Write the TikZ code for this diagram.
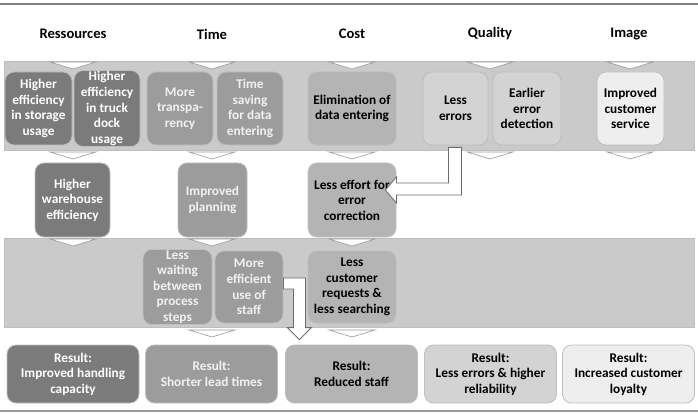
\documentclass[tikz,border=0pt]{standalone}
\usepackage{fontspec}
\setmainfont{Carlito}
\usepackage{xcolor}
\usepackage{tikz}
\usetikzlibrary{positioning,calc}
\definecolor{resgray}{HTML}{7B7B7B}
\definecolor{timegray}{HTML}{9C9C9C}
\definecolor{costgray}{HTML}{B4B4B4}
\definecolor{qualgray}{HTML}{D3D3D3}
\definecolor{imggray}{HTML}{EEEEEE}
\definecolor{bandgray}{HTML}{CACACA}
\definecolor{boxline}{HTML}{BEBEBE}
\newcommand{\chev}[2]{\draw[chev] (#1-23,#2) -- (#1+23,#2) -- (#1,#2+7) -- cycle;}

\begin{document}
\begin{tikzpicture}[x=1pt, y=-1pt,
    box/.style={rectangle, draw=boxline, line width=0.8pt, rounded corners=9pt,
                align=center, inner sep=1pt,
                font=\fontsize{13.3}{15.6}\selectfont\bfseries},
    res/.style={box, fill=resgray, text=white},
    time/.style={box, fill=timegray, text=white!95!black},
    cost/.style={box, fill=costgray, text=black},
    qual/.style={box, fill=qualgray, text=black},
    img/.style={box, fill=imggray, text=black},
    rowa/.style={minimum height=73pt},
    rowb/.style={minimum height=74pt},
    rowc/.style={minimum height=72pt},
    result/.style={minimum height=58pt, minimum width=132pt},
    head/.style={font=\fontsize{14.6}{17}\selectfont\bfseries},
    band/.style={fill=bandgray, draw=boxline, line width=0.5pt},
    chev/.style={fill=white, draw=gray!80, line width=0.6pt},
    blockarrow/.style={fill=white, draw=gray!85!black, line width=0.8pt}
]
\useasboundingbox (0,0) rectangle (698,414);

% Rules and bands
\draw[gray, line width=1.5pt] (0,4) -- (698,4);
\draw[gray!80, line width=1.5pt] (0,411) -- (698,411);
\path[band] (4,61) rectangle (694,150);
\path[band] (4,238) rectangle (694,327);

% Headers
\node[head] (hres) at (73,34) {Ressources};
\node[head] (htime) at (212,34) {Time};
\node[head] (hcost) at (352,34) {Cost};
\node[head] (hqual) at (490,34) {Quality};
\node[head] (himg) at (629,34) {Image};

% Chevrons
\chev{73}{62} \chev{212}{62} \chev{352}{62} \chev{490}{62} \chev{630}{62}
\chev{73}{152} \chev{212}{152} \chev{352}{152} \chev{490}{152} \chev{630}{152}
\chev{73}{239} \chev{212}{239} \chev{352}{239}
\chev{212}{330} \chev{352}{330}

% First row
\node[res, rowa, minimum width=67pt] (storage) at (38.5,108.5) {Higher\\efficiency\\in storage\\usage};
\node[res, rowa, minimum width=66pt] (dock) at (107,108.5) {Higher\\efficiency\\in truck\\dock\\usage};
\node[time, rowa, minimum width=66pt] (transp) at (180,108.5) {More\\transpa-\\rency};
\node[time, rowa, minimum width=66pt] (saving) at (250,108.5) {Time\\saving\\for data\\entering};
\node[cost, rowa, minimum width=88pt] (elim) at (352,108.5) {Elimination of\\data entering};
\node[qual, rowa, minimum width=65pt] (lesserr) at (455.5,108.5) {Less\\errors};
\node[qual, rowa, minimum width=68pt] (earlier) at (527,108.5) {Earlier\\error\\detection};
\node[img, rowa, minimum width=67pt] (service) at (630.5,108.5) {Improved\\customer\\service};

% Second row
\node[res, rowb, minimum width=75pt] (warehouse) at (72.5,200) {Higher\\warehouse\\efficiency};
\node[time, rowb, minimum width=69pt] (planning) at (212.5,200) {Improved\\planning};
\node[cost, rowb, minimum width=88pt] (effort) at (352,200) {Less effort for\\error\\correction};

% Third row
\node[time, rowc, minimum width=69pt] (waiting) at (177.5,287) {Less\\waiting\\between\\process\\steps};
\node[time, rowc, minimum width=68pt] (staffuse) at (249,287) {More\\efficient\\use of\\staff};
\node[cost, rowc, minimum width=88pt] (requests) at (352,287) {Less\\customer\\requests \&\\less searching};

% Results
\node[res, result] (rhandling) at (73,374) {Result:\\Improved handling\\capacity};
\node[time, result] (rlead) at (211.5,374) {Result:\\Shorter lead times};
\node[cost, result] (rstaff) at (351.5,374) {Result:\\Reduced staff};
\node[qual, result] (rreliab) at (490.5,374) {Result:\\Less errors \& higher\\reliability};
\node[img, result] (rloyalty) at (628.5,374) {Result:\\Increased customer\\loyalty};

% Block arrows
\coordinate (m1) at (lesserr.south);
\coordinate (t1) at (lesserr.south |- effort.east);
\draw[blockarrow] ($(m1)+(-7,2)$) -- ($(m1)+(6,2)$) -- ($(t1)+(6,-5)$)
    -- ($(effort.east)+(0,-5)$) -- ($(effort.east)+(0,3)$) -- ($(effort.east)+(-11,-10)$)
    -- ($(effort.east)+(0,-23)$) -- ($(effort.east)+(0,-17)$) -- ($(t1)+(-7,-17)$) -- cycle;

\coordinate (m2) at ($(staffuse.east)+(16,0)$);
\coordinate (t2) at (m2 |- rstaff.north);
\draw[blockarrow] ($(staffuse.east)+(0,-9)$) -- ($(m2)+(6,-9)$) -- ($(t2)+(6,-17)$)
    -- ($(t2)+(12,-17)$) -- ($(t2)+(0,-5)$) -- ($(t2)+(-12,-17)$)
    -- ($(t2)+(-6,-17)$) -- ($(m2)+(-6,2)$) -- ($(staffuse.east)+(0,2)$) -- cycle;

\end{tikzpicture}
\end{document}
